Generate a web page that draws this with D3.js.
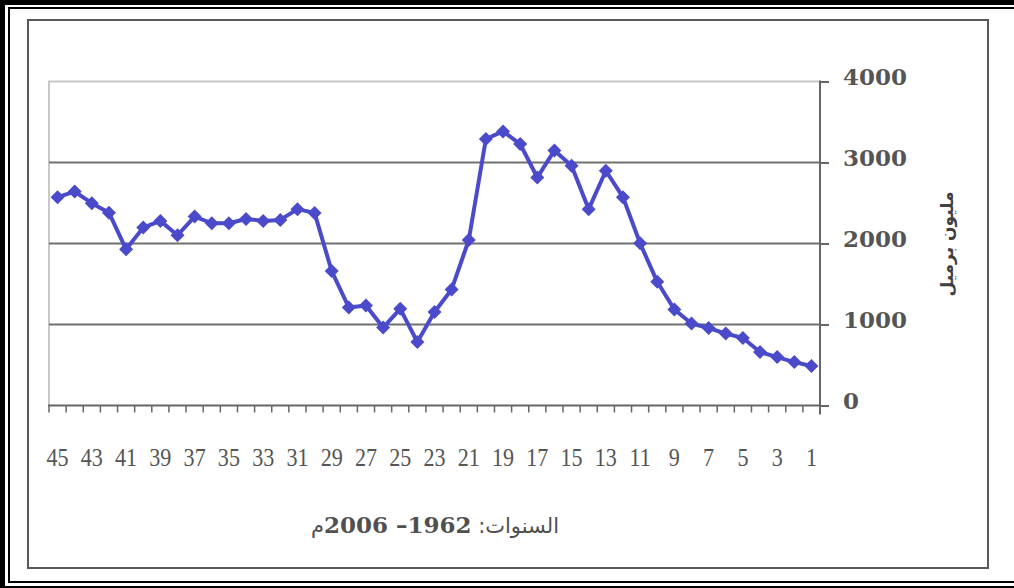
<!DOCTYPE html>
<html>
<head>
<meta charset="utf-8">
<script src="https://cdn.jsdelivr.net/npm/d3@7"></script>
<style>
  html, body { margin: 0; padding: 0; background: #fff; }
  svg { display: block; }
  .ytick text { font-family: "DejaVu Serif", serif; font-weight: bold; font-size: 23px; fill: #555; }
  .xlabel { font-family: "Liberation Serif", "Times New Roman", serif; font-size: 26px; fill: #555; }
</style>
</head>
<body>
<div id="chart"></div>
<script>
// categories run from 45 down to 1 (years counted back from 2006)
const categories = ["45","44","43","42","41","40","39","38","37","36","35","34","33","32","31","30",
  "29","28","27","26","25","24","23","22","21","20","19","18","17","16","15","14","13","12","11",
  "10","9","8","7","6","5","4","3","2","1"];
// million barrels
const values = [2572,2641,2498,2381,1928,2196,2279,2102,2332,2250,2250,2303,2279,2291,2424,2378,
  1659,1210,1235,962,1193,784,1155,1433,2043,
  3290,3384,3228,2815,3149,2960,2424,2898,2572,2003,1527,
  1185,1012,957,888,833,660,598,536,487];
const yTicks = [0, 1000, 2000, 3000, 4000];
const xLabels = ["45","43","41","39","37","35","33","31","29","27","25","23","21","19","17","15","13","11","9","7","5","3","1"];

const W = 1014, H = 588;
const PLOT_LEFT = 49, PLOT_RIGHT = 820, PLOT_TOP = 81.5, PLOT_BOTTOM = 405.5;

const svg = d3.select('#chart').append('svg').attr('width', W).attr('height', H);

// outer double frame
const frame = svg.append('g').attr('class', 'frame');
frame.append('rect').attr('x', 0).attr('y', 0).attr('width', W).attr('height', 5).attr('fill', '#000');
frame.append('rect').attr('x', 0).attr('y', 0).attr('width', 5).attr('height', H).attr('fill', '#000');
frame.append('rect').attr('x', 8).attr('y', 7).attr('width', W - 8).attr('height', 2).attr('fill', '#000');
frame.append('rect').attr('x', 8).attr('y', 7).attr('width', 2).attr('height', 576).attr('fill', '#000');
frame.append('rect').attr('x', 8).attr('y', 581).attr('width', W - 8).attr('height', 2).attr('fill', '#000');
frame.append('rect').attr('x', 0).attr('y', 586).attr('width', W).attr('height', 2).attr('fill', '#000');

// chart area border
svg.append('rect')
  .attr('x', 28).attr('y', 20).attr('width', 960).attr('height', 548)
  .attr('fill', 'none').attr('stroke', '#595959').attr('stroke-width', 2);

// scales
const x = d3.scaleBand().domain(categories).range([PLOT_LEFT, PLOT_RIGHT]).padding(0);
const y = d3.scaleLinear().domain([0, 4000]).range([PLOT_BOTTOM, PLOT_TOP]);
const cx = d => x(d) + x.bandwidth() / 2;

// plot area border (top / left)
svg.append('path')
  .attr('d', `M${PLOT_LEFT},${PLOT_BOTTOM}V${PLOT_TOP}H${PLOT_RIGHT}`)
  .attr('fill', 'none').attr('stroke', '#c8c8c8').attr('stroke-width', 2);

// gridlines
svg.append('g').selectAll('line')
  .data(yTicks.filter(v => v > 0 && v < 4000))
  .join('line')
  .attr('x1', PLOT_LEFT).attr('x2', PLOT_RIGHT)
  .attr('y1', d => y(d)).attr('y2', d => y(d))
  .attr('stroke', '#707070').attr('stroke-width', 2);

// right value axis
const yAxis = svg.append('g')
  .attr('class', 'ytick')
  .attr('transform', `translate(${PLOT_RIGHT},0)`)
  .call(d3.axisRight(y).tickValues(yTicks).tickSize(9).tickPadding(14).tickFormat(d3.format('d')));
yAxis.select('.domain').remove();
yAxis.selectAll('line').attr('stroke', '#666').attr('stroke-width', 2);
yAxis.selectAll('text').attr('dy', '0.15em');
svg.append('line')
  .attr('x1', PLOT_RIGHT).attr('x2', PLOT_RIGHT)
  .attr('y1', PLOT_TOP - 1).attr('y2', PLOT_BOTTOM + 9)
  .attr('stroke', '#666').attr('stroke-width', 2);

// category axis
svg.append('line')
  .attr('x1', PLOT_LEFT - 1).attr('x2', PLOT_RIGHT)
  .attr('y1', PLOT_BOTTOM).attr('y2', PLOT_BOTTOM)
  .attr('stroke', '#666').attr('stroke-width', 2);
svg.append('g').selectAll('line')
  .data(categories)
  .join('line')
  .attr('x1', d => x(d)).attr('x2', d => x(d))
  .attr('y1', PLOT_BOTTOM).attr('y2', PLOT_BOTTOM + 7)
  .attr('stroke', '#666').attr('stroke-width', 1.5);

svg.append('g').selectAll('text')
  .data(xLabels)
  .join('text')
  .attr('class', 'xlabel')
  .attr('text-anchor', 'middle')
  .attr('transform', d => `translate(${cx(d)},466) scale(0.85,1)`)
  .text(d => d);

// series line
const line = d3.line().x((d, i) => cx(categories[i])).y(d => y(d));
svg.append('path')
  .datum(values)
  .attr('d', line)
  .attr('fill', 'none')
  .attr('stroke', '#4a4acb')
  .attr('stroke-width', 4)
  .attr('stroke-linejoin', 'round');

// diamond markers
svg.append('g').selectAll('path')
  .data(values)
  .join('path')
  .attr('transform', (d, i) => `translate(${cx(categories[i])},${y(d)})`)
  .attr('d', 'M0,-7L7,0L0,7L-7,0Z')
  .attr('fill', '#4a4acb');

// axis titles
svg.append('text')
  .attr('transform', 'translate(947,244) rotate(-90)')
  .attr('text-anchor', 'middle')
  .attr('dy', '0.35em')
  .attr('direction', 'rtl')
  .style('font-family', '"DejaVu Sans", sans-serif')
  .style('font-weight', 'bold')
  .style('font-size', '17px')
  .style('fill', '#404040')
  .text('مليون برميل');

const title = svg.append('text')
  .attr('x', 435).attr('y', 533)
  .attr('text-anchor', 'middle')
  .attr('direction', 'rtl')
  .style('fill', '#505050');
title.append('tspan')
  .style('font-family', '"DejaVu Sans", sans-serif').style('font-size', '21px')
  .text('السنوات: ');
title.append('tspan')
  .style('font-family', '"DejaVu Serif", serif').style('font-weight', 'bold').style('font-size', '23px')
  .text('1962– 2006');
title.append('tspan')
  .style('font-family', '"DejaVu Sans", sans-serif').style('font-size', '21px')
  .text('م');
</script>
</body>
</html>
